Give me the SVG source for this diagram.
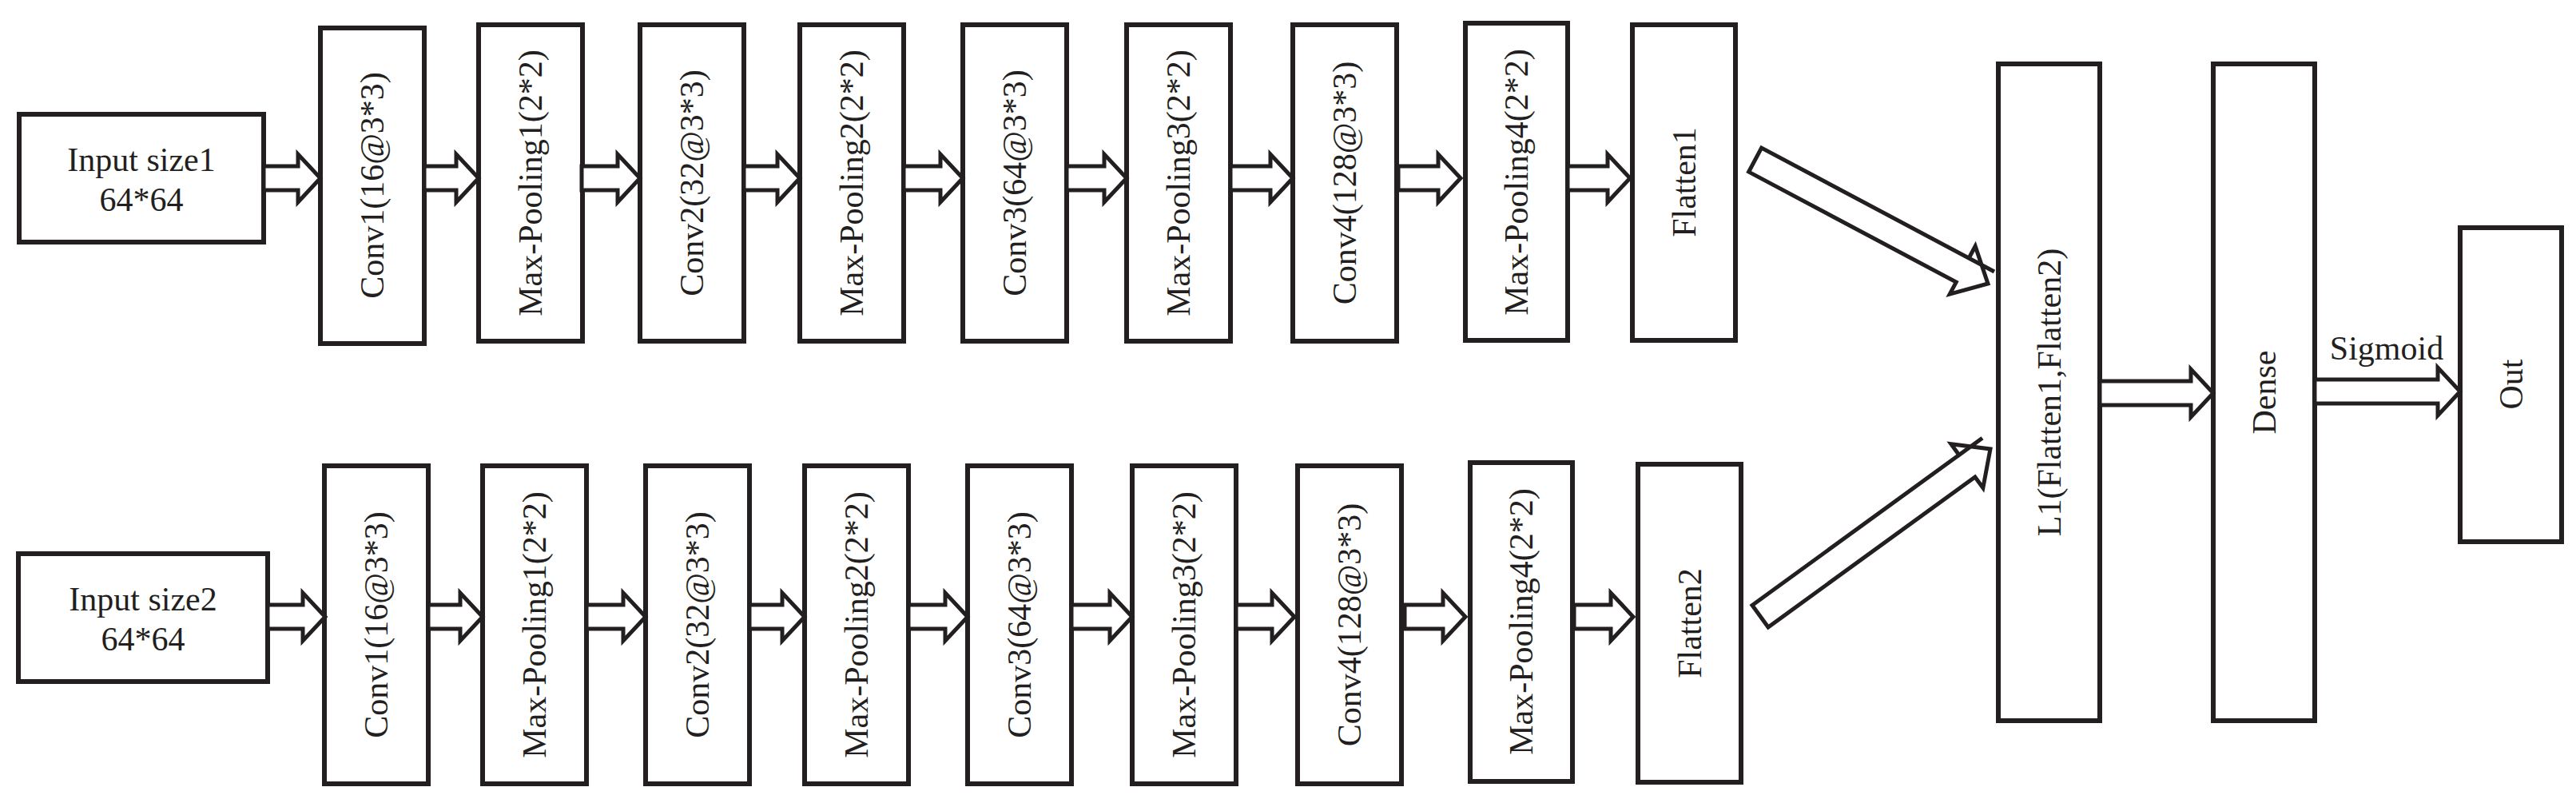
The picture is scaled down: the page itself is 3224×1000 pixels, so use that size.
<svg xmlns="http://www.w3.org/2000/svg" width="3224" height="1000" viewBox="0 0 3224 1000">
<style>
.b{fill:#fff;stroke:#231f20;stroke-width:6}
.a{fill:#fff;stroke:#231f20;stroke-width:5;stroke-linejoin:miter}
text{font-family:"Liberation Serif","Times New Roman",serif;font-size:42px;fill:#231f20;text-anchor:middle;dominant-baseline:central}
</style>
<defs>
<polygon id="ah" class="a" points="0,-15 -28,-15 -28,-30 0,0"/>
</defs>
<g id="input1"><rect class="b" x="24" y="143" width="306" height="160"/><text x="177" y="200">Input size1</text><text x="177" y="250">64*64</text></g>
<g id="input2"><rect class="b" x="23" y="693" width="312" height="160"/><text x="179" y="750">Input size2</text><text x="179" y="800">64*64</text></g>
<g id="top-conv1"><rect class="b" x="401" y="35" width="130" height="395"/><text transform="translate(466,232) rotate(-90)">Conv1(16@3*3)</text></g>
<g id="top-mp1"><rect class="b" x="599" y="31" width="130" height="396"/><text transform="translate(664,229) rotate(-90)">Max-Pooling1(2*2)</text></g>
<g id="top-conv2"><rect class="b" x="801" y="31" width="130" height="396"/><text transform="translate(866,229) rotate(-90)">Conv2(32@3*3)</text></g>
<g id="top-mp2"><rect class="b" x="1001" y="31" width="130" height="396"/><text transform="translate(1066,229) rotate(-90)">Max-Pooling2(2*2)</text></g>
<g id="top-conv3"><rect class="b" x="1205" y="31" width="130" height="396"/><text transform="translate(1270,229) rotate(-90)">Conv3(64@3*3)</text></g>
<g id="top-mp3"><rect class="b" x="1410" y="31" width="130" height="396"/><text transform="translate(1475,229) rotate(-90)">Max-Pooling3(2*2)</text></g>
<g id="top-conv4"><rect class="b" x="1618" y="31" width="130" height="396"/><text transform="translate(1683,229) rotate(-90)">Conv4(128@3*3)</text></g>
<g id="top-mp4"><rect class="b" x="1834" y="29" width="128" height="397"/><text transform="translate(1898,228) rotate(-90)">Max-Pooling4(2*2)</text></g>
<g id="flatten1"><rect class="b" x="2043" y="31" width="129" height="395"/><text transform="translate(2108,228) rotate(-90)">Flatten1</text></g>
<g id="bot-conv1"><rect class="b" x="406" y="583" width="130" height="398"/><text transform="translate(471,782) rotate(-90)">Conv1(16@3*3)</text></g>
<g id="bot-mp1"><rect class="b" x="604" y="583" width="130" height="398"/><text transform="translate(669,782) rotate(-90)">Max-Pooling1(2*2)</text></g>
<g id="bot-conv2"><rect class="b" x="808" y="583" width="130" height="398"/><text transform="translate(873,782) rotate(-90)">Conv2(32@3*3)</text></g>
<g id="bot-mp2"><rect class="b" x="1007" y="583" width="130" height="398"/><text transform="translate(1072,782) rotate(-90)">Max-Pooling2(2*2)</text></g>
<g id="bot-conv3"><rect class="b" x="1211" y="583" width="130" height="398"/><text transform="translate(1276,782) rotate(-90)">Conv3(64@3*3)</text></g>
<g id="bot-mp3"><rect class="b" x="1417" y="583" width="130" height="398"/><text transform="translate(1482,782) rotate(-90)">Max-Pooling3(2*2)</text></g>
<g id="bot-conv4"><rect class="b" x="1624" y="583" width="130" height="398"/><text transform="translate(1689,782) rotate(-90)">Conv4(128@3*3)</text></g>
<g id="bot-mp4"><rect class="b" x="1840" y="579" width="128" height="399"/><text transform="translate(1904,778) rotate(-90)">Max-Pooling4(2*2)</text></g>
<g id="flatten2"><rect class="b" x="2050" y="581" width="129" height="398"/><text transform="translate(2115,780) rotate(-90)">Flatten2</text></g>
<g id="l1"><rect class="b" x="2501" y="80" width="127" height="822"/><text transform="translate(2565,491) rotate(-90)">L1(Flatten1,Flatten2)</text></g>
<g id="dense"><rect class="b" x="2770" y="80" width="127" height="822"/><text transform="translate(2834,491) rotate(-90)">Dense</text></g>
<g id="out"><rect class="b" x="3079" y="285" width="127" height="393"/><text transform="translate(3143,481) rotate(-90)">Out</text></g>
<g id="connectors">
<polygon class="a" points="330,208 373,208 373,193 401,223 373,253 373,238 330,238"/>
<polygon class="a" points="531,208 571,208 571,193 599,223 571,253 571,238 531,238"/>
<polygon class="a" points="728,208 773,208 773,193 801,223 773,253 773,238 728,238"/>
<polygon class="a" points="931,208 973,208 973,193 1001,223 973,253 973,238 931,238"/>
<polygon class="a" points="1131,208 1177,208 1177,193 1205,223 1177,253 1177,238 1131,238"/>
<polygon class="a" points="1335,208 1382,208 1382,193 1410,223 1382,253 1382,238 1335,238"/>
<polygon class="a" points="1540,208 1590,208 1590,193 1618,223 1590,253 1590,238 1540,238"/>
<polygon class="a" points="1750,208 1800,208 1800,193 1828,223 1800,253 1800,238 1750,238"/>
<polygon class="a" points="1962,208 2012,208 2012,193 2040,223 2012,253 2012,238 1962,238"/>
<polygon class="a" points="335,757 379,757 379,742 407,772 379,802 379,787 335,787"/>
<polygon class="a" points="536,757 576,757 576,742 604,772 576,802 576,787 536,787"/>
<polygon class="a" points="734,757 780,757 780,742 808,772 780,802 780,787 734,787"/>
<polygon class="a" points="938,757 979,757 979,742 1007,772 979,802 979,787 938,787"/>
<polygon class="a" points="1137,757 1183,757 1183,742 1211,772 1183,802 1183,787 1137,787"/>
<polygon class="a" points="1341,757 1389,757 1389,742 1417,772 1389,802 1389,787 1341,787"/>
<polygon class="a" points="1547,757 1592,757 1592,742 1620,772 1592,802 1592,787 1547,787"/>
<polygon class="a" points="1758,757 1806,757 1806,742 1834,772 1806,802 1806,787 1758,787"/>
<polygon class="a" points="1970,757 2016,757 2016,742 2044,772 2016,802 2016,787 1970,787"/>
<polygon class="a" points="0,-17 -36,-17 -36,-34 0,0 -36,34 -36,17 -330,17 -330,-17" transform="translate(2488,355) rotate(28)"/>
<polygon class="a" points="0,-17 -36,-17 -36,-34 0,0 -36,34 -36,17 -356,17 -356,-17" transform="translate(2491,562) rotate(-36)"/>
<polygon class="a" points="2628,477 2742,477 2742,462 2770,492 2742,522 2742,507 2628,507"/>
<polygon class="a" points="2897,475 3051,475 3051,460 3079,490 3051,520 3051,505 2897,505"/>
<text x="2987" y="436">Sigmoid</text>
</g>
</svg>
